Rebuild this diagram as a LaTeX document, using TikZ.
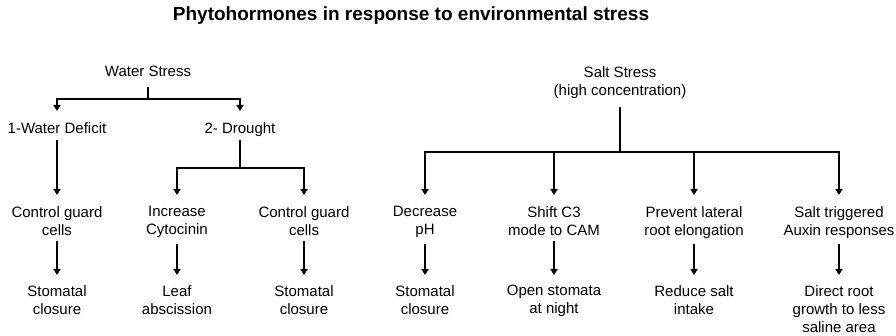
\documentclass[tikz,border=0pt]{standalone}
\usepackage{fontspec}
\setmainfont{Liberation Sans}
\usetikzlibrary{arrows.meta}
\tikzset{
    txt/.style={align=center, inner sep=0pt, anchor=north, font=\fontsize{15}{18}\selectfont},
    bar/.style={line width=1.8pt},
    arr/.style={line width=1.8pt, -{Triangle[width=7pt,length=6pt]}, shorten >=11pt}
}
\begin{document}
\begin{tikzpicture}[x=1pt, y=-1pt]
                \useasboundingbox (0, 0) rectangle (896, 336);
                \node (0) at (411, 21) [anchor=base, inner sep=0pt, font=\fontsize{19}{22}\selectfont\bfseries] {Phytohormones in response to environmental stress};
                \node (1) at (148, 66) [txt] {Water Stress};
                \node (2) at (57, 122) [txt] {1-Water Deficit};
                \node (3) at (240, 122) [txt] {2- Drought};
                \node (4) at (57, 206) [txt] {Control guard\\cells};
                \node (5) at (177, 206) [txt] {Increase\\Cytocinin};
                \node (6) at (304, 206) [txt] {Control guard\\cells};
                \node (7) at (57, 285) [txt] {Stomatal\\closure};
                \node (8) at (177, 285) [txt] {Leaf\\abscission};
                \node (9) at (304, 285) [txt] {Stomatal\\closure};
                \node (10) at (620, 66) [txt] {Salt Stress\\(high concentration)};
                \node (11) at (425, 206) [txt] {Decrease\\pH};
                \node (12) at (554, 206) [txt] {Shift C3\\mode to CAM};
                \node (13) at (694, 206) [txt] {Prevent lateral\\root elongation};
                \node (14) at (839, 206) [txt] {Salt triggered\\Auxin responses};
                \node (15) at (425, 285) [txt] {Stomatal\\closure};
                \node (16) at (554, 285) [txt] {Open stomata\\at night};
                \node (17) at (694, 285) [txt] {Reduce salt\\intake};
                \node (18) at (839, 285) [txt] {Direct root\\growth to less\\saline area};
                \node (w) at (148, 99) {};
                \node (d) at (240, 168) {};
                \node (s) at (620, 152) {};
                \draw[bar, shorten <=10pt] (1) to (w.center);
                \draw[arr] (w.center) -| (2);
                \draw[arr] (w.center) -| (3);
                \draw[arr, shorten <=7pt] (2) to (4);
                \draw[bar, shorten <=4pt] (3) to (d.center);
                \draw[arr] (d.center) -| (5);
                \draw[arr] (d.center) -| (6);
                \draw[bar, shorten <=9pt] (10) to (s.center);
                \draw[arr] (s.center) -| (11);
                \draw[arr] (s.center) -| (12);
                \draw[arr] (s.center) -| (13);
                \draw[arr] (s.center) -| (14);
                \foreach \a/\b in {4/7, 5/8, 6/9, 11/15, 12/16, 13/17, 14/18}
                    \draw[arr, shorten <=6pt, shorten >=10pt] (\a) to (\b);
    \end{tikzpicture}
\end{document}
